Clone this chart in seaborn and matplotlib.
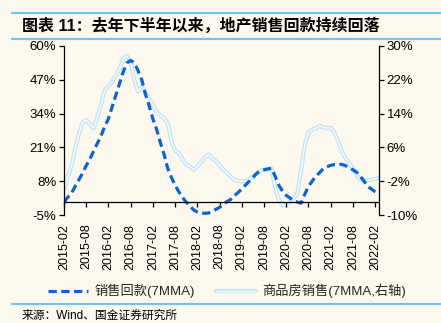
import numpy as np
import pandas as pd
import matplotlib
matplotlib.use("Agg")
import matplotlib.pyplot as plt
import matplotlib.patheffects as pe
from matplotlib.lines import Line2D
import seaborn as sns

# ---- data (monthly, 2015-02 .. 2022-03) ----
months = pd.period_range("2015-02", "2022-03", freq="M").strftime("%Y-%m").tolist()

collection_7mma = [  # 销售回款(7MMA), left axis, %
    0, 1.8, 3.2, 6, 8.5, 11, 14, 16.5, 19.5, 22.5,
    25.4, 29, 32, 36.5, 41, 45.5, 50, 53.5, 54.4, 53.5,
    50.5, 47, 41.5, 37, 32, 28, 23, 18.5, 13, 9.5,
    6.5, 4, 1.8, 0, -1.5, -3, -3.8, -4.2, -4.3, -4.2,
    -3.6, -2.8, -2, -1, 0.2, 1, 2.4, 3.7, 5, 6.5,
    8, 9.4, 11, 12, 12.4, 12.7, 13, 10, 6.5, 4.2,
    2.6, 1.6, 0.5, 0, -0.4, 3, 6, 8, 10, 11.3,
    12.8, 13.6, 14.1, 14.4, 14.5, 14.5, 14, 13.2, 12.4, 11.5,
    10, 8, 6, 5, 4, 3.2,
]

sales_7mma = [  # 商品房销售(7MMA), right axis, %
    -4, -1, 1.5, 5.5, 9, 11.8, 12.5, 11.5, 10.5, 13,
    16, 19.5, 20.5, 21.5, 23, 24.5, 27, 27.6, 26.3, 22,
    19.2, 20.4, 18.8, 17.6, 16, 14.5, 13.6, 12.9, 11.7, 7.5,
    5.2, 4.7, 3.3, 1.9, 1.5, 0.7, 1.5, 2.5, 3.6, 4.3,
    3.4, 2.8, 1.8, 0.8, 0, -0.9, -1.7, -1.9, -2, -2,
    -1.6, -0.9, -0.2, 0.5, 0.8, 0.9, 1.1, -3.5, -6.4, -7.6,
    -7.5, -7, -6, -4.8, 0.5, 6.5, 9.5, 10.2, 10.5, 11.1,
    10.7, 10.6, 10.6, 9.5, 7.5, 5, 3.5, 2.3, 1, -0.6,
    -1.5, -1.7, -1.7, -1.7, -1.4, -1.3,
]

left_ticks = [-5, 8, 21, 34, 47, 60]
right_ticks = [-10, -2, 6, 14, 22, 30]

title_text = "图表 11：去年下半年以来，地产销售回款持续回落"
label_collection = "销售回款(7MMA)"
label_sales = "商品房销售(7MMA,右轴)"
source_text = "来源：Wind、国金证券研究所"

# ---- style ----
sns.set_style("ticks")
plt.rcParams["font.family"] = ["Liberation Sans", "Noto Sans CJK SC", "DejaVu Sans"]
plt.rcParams["axes.unicode_minus"] = False

BG = "#fcf8ee"
BLUE = "#0a64d2"
LIGHT = "#c4e4f6"
RULE = "#6cc6ee"

df = pd.DataFrame({"idx": np.arange(len(months)), "month": months,
                   "collection": collection_7mma, "sales": sales_7mma})

fig = plt.figure(figsize=(4.41, 3.23), dpi=100, facecolor=BG)
ax = fig.add_axes([0.145, 0.334, 0.714, 0.524])
ax2 = ax.twinx()

sns.lineplot(data=df, x="idx", y="sales", ax=ax2, color="#f6fbfe", linewidth=1.0,
             path_effects=[pe.Stroke(linewidth=3.0, foreground=LIGHT), pe.Normal()],
             label=label_sales, legend=False)
sns.lineplot(data=df, x="idx", y="collection", ax=ax, color=BLUE, linewidth=2.3,
             label=label_collection, legend=False)
ax.lines[0].set_dashes((2.6, 1.4))

# put dashed line above
ax.set_zorder(ax2.get_zorder() + 1)
ax.patch.set_visible(False)
ax2.patch.set_visible(False)

ax.set_xlim(0, len(months) - 1)
ax.set_ylim(-5, 60)
ax2.set_ylim(-10, 30)
ax.set_yticks(left_ticks)
ax.set_yticklabels([f"{v}%" for v in left_ticks])
ax2.set_yticks(right_ticks)
ax2.set_yticklabels([f"{v}%" for v in right_ticks])

tick_idx = list(range(0, len(months), 6))
ax.set_xticks(tick_idx)
ax.set_xticklabels([months[i] for i in tick_idx])
ax.set_xlabel("")
ax.set_ylabel("")
ax2.set_ylabel("")

for a in (ax, ax2):
    for s in a.spines.values():
        s.set_color("black")
        s.set_linewidth(0.9)
    a.spines["top"].set_visible(False)
ax2.spines["bottom"].set_visible(False)
ax2.spines["left"].set_visible(False)
ax.spines["right"].set_visible(False)
ax.spines["bottom"].set_position(("data", 0))

ax.tick_params(axis="x", direction="out", length=3.5, width=0.9, pad=12,
               labelsize=9, colors="black", labelrotation=90)
ax.tick_params(axis="y", direction="out", length=3.5, width=0.9, pad=2,
               labelsize=9.5, colors="black")
ax2.tick_params(axis="y", direction="out", length=3.5, width=0.9, pad=2,
                labelsize=9.5, colors="black")

# ---- title, rules, legend, source ----
fig.add_artist(Line2D([12 / 441, 1], [1 - 13 / 323] * 2, color=RULE, lw=1.6))
fig.add_artist(Line2D([12 / 441, 1], [1 - 38.5 / 323] * 2, color=RULE, lw=1.6))
fig.add_artist(Line2D([12 / 441, 1], [1 - 304 / 323] * 2, color=RULE, lw=1.6))
fig.text(22 / 441, 1 - 25.5 / 323, title_text, fontsize=11.5, fontweight="bold",
         ha="left", va="center", color="black")
fig.text(22 / 441, 1 - 316 / 323, source_text, fontsize=8.5, ha="left",
         va="center", color="black")

h1 = ax.lines[0]
h2 = ax2.lines[0]
fig.legend([h1, h2], [label_collection, label_sales], loc="center",
           bbox_to_anchor=(0.515, 1 - 291 / 323), ncol=2, frameon=False,
           fontsize=9.5, handlelength=3.0, columnspacing=1.6, handletextpad=0.5)

fig.savefig("out.png", dpi=100, facecolor=BG)
